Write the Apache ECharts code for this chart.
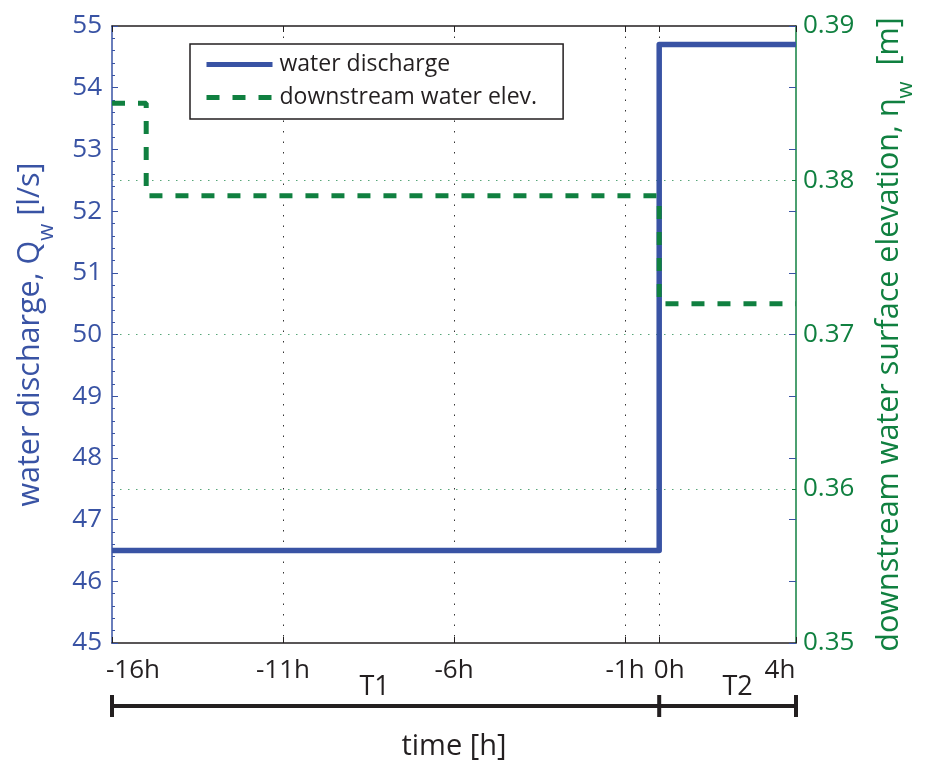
<!DOCTYPE html>
<html><head><meta charset="utf-8">
<script src="https://cdn.jsdelivr.net/npm/echarts@6/dist/echarts.min.js"></script>
<style>html,body{margin:0;padding:0;background:#fff}#c{width:925px;height:767px}</style>
</head><body><div id="c"></div>
<script>
// ---- data ----
const dischargeTimes = [-16, 0, 4];
const dischargeValues = [46.5, 54.7, 54.7];
const elevTimes = [-16, -15, 0, 4];
const elevValues = [0.385, 0.379, 0.372, 0.372];
const xTicks = [-16, -11, -6, -1, 0, 4];
const xTickLabels = ['-16h', '-11h', '-6h', '-1h', '0h', '4h'];
const periodBounds = [-16, 0, 4];
const periodLabels = ['T1', 'T2'];
const seriesNames = ['water discharge', 'downstream water elev.'];

const BLUE = '#3953A4', GREEN = '#108040', BLACK = '#231F20';
const FONT = 'Open Sans';

const chart = echarts.init(document.getElementById('c'), null, {renderer: 'canvas'});

const XF = 26;
const labelRich = {
  a: {fontSize: XF, color: BLACK, fontFamily: FONT, lineHeight: 26},
  first: {fontSize: XF, color: BLACK, fontFamily: FONT, lineHeight: 26, padding: [0, 0, 0, 42]},
  zero: {fontSize: XF, color: BLACK, fontFamily: FONT, lineHeight: 26, padding: [0, 0, 0, 20]},
  last: {fontSize: XF, color: BLACK, fontFamily: FONT, lineHeight: 26, padding: [0, 32, 0, 0]}
};
function xLabel(v) {
  const i = xTicks.indexOf(Math.round(v));
  if (i < 0) return '';
  const t = xTickLabels[i];
  if (i === 0) return '{first|' + t + '}';
  if (i === xTicks.length - 1) return '{last|' + t + '}';
  if (xTicks[i] === 0) return '{zero|' + t + '}';
  return '{a|' + t + '}';
}
function nameRich(color) {
  return {
    a: {fontSize: 30.5, color: color, fontFamily: FONT, lineHeight: 55, verticalAlign: 'middle'},
    s: {fontSize: 22, color: color, fontFamily: FONT, lineHeight: 22, verticalAlign: 'bottom'}
  };
}

const option = {
  animation: false,
  backgroundColor: '#fff',
  textStyle: {fontFamily: FONT},
  grid: {left: 112, right: 127, top: 26, bottom: 123, containLabel: false},
  legend: {
    left: 190, top: 44,
    orient: 'vertical',
    data: seriesNames,
    itemWidth: 66, itemHeight: 24, itemGap: 10,
    padding: [9, 26, 10, 14],
    borderColor: BLACK, borderWidth: 1.5,
    backgroundColor: '#fff',
    textStyle: {fontSize: 23, color: BLACK, fontFamily: FONT, padding: [0, 0, 0, 2]},
    lineStyle: {width: 5},
    itemStyle: {opacity: 0, borderWidth: 0},
    selectedMode: false
  },
  xAxis: [{
    type: 'value', min: -16, max: 4,
    position: 'bottom',
    name: 'time [h]', nameLocation: 'middle', nameGap: 89,
    nameTextStyle: {fontSize: 29, color: BLACK, fontFamily: FONT, lineHeight: 30},
    axisLine: {show: true, onZero: false, lineStyle: {color: BLACK, width: 1.5}},
    axisTick: {show: true, inside: true, length: 6, customValues: xTicks, lineStyle: {color: BLACK, width: 1}},
    axisLabel: {show: true, margin: 15, customValues: xTicks, formatter: xLabel, rich: labelRich},
    splitLine: {show: true, showMinLine: false, showMaxLine: false, lineStyle: {color: '#333', width: 1, type: [1.5, 9]}}
  }, {
    type: 'value', min: -16, max: 4,
    position: 'top',
    axisLine: {show: true, onZero: false, lineStyle: {color: BLACK, width: 1.5}},
    axisTick: {show: true, inside: true, length: 6, customValues: xTicks, lineStyle: {color: BLACK, width: 1}},
    axisLabel: {show: false},
    splitLine: {show: false}
  }],
  yAxis: [{
    type: 'value', min: 45, max: 55, interval: 1,
    position: 'left',
    name: '{a|water discharge, Q}{s|w}{a| [l/s]}',
    nameLocation: 'middle', nameRotate: 90, nameGap: 54,
    nameTextStyle: {rich: nameRich(BLUE)},
    axisLine: {show: true, onZero: false, lineStyle: {color: BLUE, width: 1.5}},
    axisTick: {show: true, inside: true, length: 6, lineStyle: {color: BLUE, width: 1}},
    minorTick: {show: true, splitNumber: 5, length: 3, lineStyle: {color: BLUE, width: 1}},
    axisLabel: {fontSize: 26, color: BLUE, fontFamily: FONT, margin: 10},
    splitLine: {show: false}
  }, {
    type: 'value', min: 0.35, max: 0.39, interval: 0.01,
    position: 'right',
    name: '{a|downstream water surface elevation, η}{s|w}{a|  [m]}',
    nameLocation: 'middle', nameRotate: 90, nameGap: 66,
    nameTextStyle: {rich: nameRich(GREEN)},
    axisLine: {show: true, onZero: false, lineStyle: {color: GREEN, width: 1.5}},
    axisTick: {show: true, inside: true, length: 4, lineStyle: {color: GREEN, width: 1}},
    axisLabel: {fontSize: 26, color: GREEN, fontFamily: FONT, margin: 7, formatter: v => v.toFixed(2)},
    splitLine: {show: true, showMinLine: false, showMaxLine: false, lineStyle: {color: 'rgba(16,128,64,0.7)', width: 1, type: [1.5, 6.5]}}
  }, {
    type: 'value', min: 45, max: 55, interval: 1,
    position: 'right',
    axisLine: {show: false, onZero: false},
    axisTick: {show: true, inside: true, length: 7, lineStyle: {color: BLUE, width: 1}},
    axisLabel: {show: false},
    splitLine: {show: false}
  }],
  series: [{
    name: seriesNames[0], type: 'line', step: 'end',
    xAxisIndex: 0, yAxisIndex: 0,
    data: dischargeTimes.map((t, i) => [t, dischargeValues[i]]),
    symbol: 'none', showSymbol: false,
    lineStyle: {color: BLUE, width: 5.5, join: 'round'},
    itemStyle: {color: BLUE},
    z: 2
  }, {
    name: seriesNames[1], type: 'line', step: 'end',
    xAxisIndex: 0, yAxisIndex: 1,
    data: elevTimes.map((t, i) => [t, elevValues[i]]),
    symbol: 'none', showSymbol: false,
    lineStyle: {color: GREEN, width: 5, type: [13, 13]},
    itemStyle: {color: GREEN},
    z: 3
  }]
};
chart.setOption(option);

// period bar below the time axis
const px = v => chart.convertToPixel({xAxisIndex: 0}, v);
const barY = 706;
const els = [];
els.push({type: 'line', shape: {x1: px(periodBounds[0]), y1: barY, x2: px(periodBounds[periodBounds.length - 1]), y2: barY},
  style: {stroke: BLACK, lineWidth: 4}, silent: true});
periodBounds.forEach(b => {
  els.push({type: 'line', shape: {x1: px(b), y1: barY - 11, x2: px(b), y2: barY + 11},
    style: {stroke: BLACK, lineWidth: 4}, silent: true});
});
const labelShift = [-11, 10];
periodLabels.forEach((lab, i) => {
  const mid = (px(periodBounds[i]) + px(periodBounds[i + 1])) / 2 + labelShift[i];
  els.push({type: 'text', x: mid, y: 687,
    style: {text: lab, fill: BLACK, font: '27px "Open Sans"', align: 'center', verticalAlign: 'middle'}, silent: true});
});
chart.setOption({graphic: {elements: els}});
</script>
</body></html>
